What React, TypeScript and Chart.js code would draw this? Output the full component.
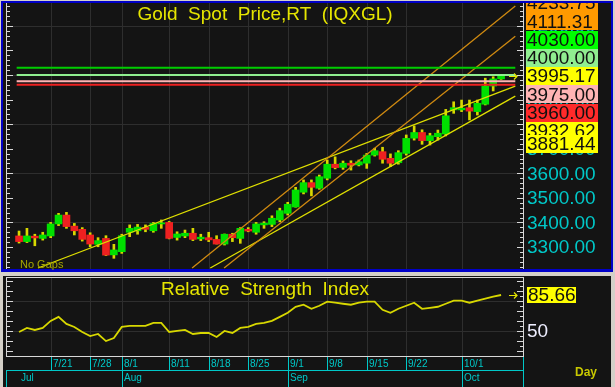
import React, { useEffect, useRef } from 'react';
import { Chart, registerables } from 'chart.js';

Chart.register(...registerables);

// ---------- data ----------
const dates = [
  '7/15', '7/16', '7/17', '7/18', '7/21', '7/22', '7/23', '7/24', '7/25', '7/28', '7/29', '7/30', '7/31',
  '8/1', '8/4', '8/5', '8/6', '8/7', '8/8', '8/11', '8/12', '8/13', '8/14', '8/15', '8/18', '8/19', '8/20',
  '8/21', '8/22', '8/25', '8/26', '8/27', '8/28', '8/29',
  '9/1', '9/2', '9/3', '9/4', '9/5', '9/8', '9/9', '9/10', '9/11', '9/12', '9/15', '9/16', '9/17', '9/18',
  '9/19', '9/22', '9/23', '9/24', '9/25', '9/26', '9/29', '9/30',
  '10/1', '10/2', '10/3', '10/6', '10/7', '10/8',
];
const opens = [
  3345, 3322, 3344, 3335, 3345, 3394, 3430, 3385, 3372, 3349, 3311, 3335, 3268,
  3281, 3360, 3366, 3380, 3366, 3394, 3400, 3339, 3345, 3356, 3333, 3338, 3331, 3312,
  3352, 3335, 3372, 3360, 3390, 3392, 3410,
  3437, 3463, 3523, 3562, 3539, 3580, 3637, 3624, 3641, 3634, 3641, 3674, 3688, 3661,
  3643, 3681, 3743, 3766, 3733, 3749, 3760, 3858,
  3858, 3867, 3851, 3881, 3955, 3984,
];
const highs = [
  3365, 3376, 3352, 3360, 3400, 3437, 3441, 3396, 3379, 3358, 3338, 3346, 3311,
  3352, 3390, 3392, 3390, 3400, 3410, 3404, 3362, 3369, 3376, 3352, 3360, 3346, 3353,
  3356, 3379, 3379, 3400, 3403, 3427, 3458,
  3482, 3543, 3573, 3573, 3593, 3654, 3667, 3650, 3651, 3654, 3681, 3702, 3706, 3679,
  3692, 3756, 3793, 3777, 3763, 3776, 3860, 3891,
  3898, 3898, 3898, 3987, 3993, 3999,
];
const lows = [
  3316, 3318, 3305, 3328, 3338, 3387, 3376, 3349, 3324, 3301, 3301, 3265, 3254,
  3274, 3342, 3352, 3362, 3360, 3376, 3333, 3328, 3338, 3326, 3326, 3322, 3312, 3308,
  3322, 3315, 3362, 3352, 3376, 3383, 3403,
  3430, 3462, 3516, 3508, 3535, 3573, 3618, 3616, 3613, 3630, 3620, 3670, 3641, 3627,
  3637, 3674, 3735, 3718, 3715, 3735, 3752, 3844,
  3851, 3817, 3837, 3878, 3935, 3982,
];
const closes = [
  3322, 3345, 3337, 3349, 3394, 3430, 3383, 3366, 3331, 3312, 3326, 3267, 3288,
  3346, 3376, 3381, 3372, 3396, 3398, 3335, 3353, 3356, 3331, 3340, 3329, 3312, 3352,
  3338, 3376, 3365, 3394, 3397, 3417, 3448,
  3474, 3532, 3562, 3543, 3586, 3637, 3623, 3641, 3633, 3647, 3674, 3692, 3657, 3641,
  3684, 3742, 3766, 3733, 3753, 3763, 3834, 3867,
  3865, 3853, 3885, 3955, 3984, 3995.17,
];
const rsiValues = [
  49, 53, 51, 53, 60, 64, 57, 54, 49, 45, 47, 40, 43,
  54, 55, 55, 55, 58, 58, 49, 50, 51, 47, 48, 48, 44, 50,
  48, 53, 54, 57, 58, 60, 64,
  68, 74, 76, 72, 75, 79, 78, 77, 76, 78, 79, 79, 71, 68,
  72, 75, 78, 72, 73, 74, 77, 80,
  80, 78, 80, 82, 84, 85.66,
];

const dayTickLabels = ['7/21', '7/28', '8/1', '8/11', '8/18', '8/25', '9/1', '9/8', '9/15', '9/22', '10/1'];
const monthLabels = ['Jul', 'Aug', 'Sep', 'Oct'];
const monthFirstDates = ['7/15', '8/1', '9/1', '10/1'];

const levelValues = [4030, 4000, 3975, 3960];
const levelColors = ['#00cc00', '#90ee90', '#ffb4b4', '#ee2020'];

const trendStartX = [21.9, 25.95, 2.4, 24.2];
const trendStartY = [3214.5, 3214.5, 3214.5, 3214.5];
const trendEndX = [62.8, 62.8, 62.8, 62.8];
const trendEndY = [4280.7, 4157.4, 3954.7, 3914.1];
const trendColors = ['#d08a10', '#d08a10', '#e0e000', '#e0e000'];

const priceLabelValues = ['4233.75', '4111.31', '4030.00', '4000.00', '3995.17', '3975.00', '3960.00', '3932.62', '3881.44'];
const priceLabelColors = ['#ff9a00', '#ff9a00', '#00ff00', '#90ee90', '#ffff00', '#ffb4b4', '#ff2a2a', '#ffff00', '#ffff00'];
const priceAxisTicks = [3300, 3400, 3500, 3600, 3700, 3800, 3900, 4000, 4100, 4200];
const rsiGridValues = [50, 80];
const rsiAxisLabel = '50';
const lastRsiLabel = '85.66';

const FONT = '"Liberation Sans", Arial, Helvetica, sans-serif';
const X_MIN = -1.65;
const X_MAX = 63.9;
const BG = '#141414';
const GRID = '#2e2e2e';
const CYAN = '#00c8c8';

function dayTickIdx() {
  return dayTickLabels.map((d) => dates.indexOf(d));
}

function drawArrow(ctx: CanvasRenderingContext2D, x: number, y: number, color: string) {
  ctx.save();
  ctx.strokeStyle = color;
  ctx.lineWidth = 1.2;
  ctx.beginPath();
  ctx.moveTo(x, y);
  ctx.lineTo(x + 8, y);
  ctx.moveTo(x + 5, y - 3);
  ctx.lineTo(x + 8, y);
  ctx.lineTo(x + 5, y + 3);
  ctx.stroke();
  ctx.restore();
}

function sideTicks(ctx: CanvasRenderingContext2D, chart: any, step: number, major: number) {
  const { left, right, top, bottom } = chart.chartArea;
  const ys = chart.scales.y;
  ctx.save();
  ctx.strokeStyle = '#d8d8d8';
  ctx.lineWidth = 1;
  const start = Math.ceil(ys.min / step) * step;
  for (let v = start; v <= ys.max; v += step) {
    const y = Math.round(ys.getPixelForValue(v)) + 0.5;
    if (y < top || y > bottom) continue;
    const len = Math.abs(v % major) < 1e-6 ? 7 : 4;
    ctx.beginPath();
    ctx.moveTo(left, y);
    ctx.lineTo(left + len, y);
    ctx.moveTo(right, y);
    ctx.lineTo(right - len, y);
    ctx.stroke();
  }
  ctx.beginPath();
  ctx.moveTo(left + 0.5, top);
  ctx.lineTo(left + 0.5, bottom);
  ctx.moveTo(right - 0.5, top);
  ctx.lineTo(right - 0.5, bottom);
  ctx.stroke();
  ctx.restore();
}

const topPanelPlugin = {
  id: 'topPanel',
  beforeDraw(chart: any) {
    const { ctx, width, height } = chart;
    const { left, right, top, bottom } = chart.chartArea;
    const xs = chart.scales.x;
    const ys = chart.scales.y;
    ctx.save();
    ctx.fillStyle = '#d4d0c8';
    ctx.fillRect(0, 0, width, height);
    ctx.fillStyle = '#0000c8';
    ctx.fillRect(1, 1, 612, 271);
    ctx.fillStyle = BG;
    ctx.fillRect(3, 3, 608, 266);
    ctx.strokeStyle = GRID;
    ctx.lineWidth = 1;
    dayTickIdx().forEach((i) => {
      const x = Math.round(xs.getPixelForValue(i)) + 0.5;
      ctx.beginPath();
      ctx.moveTo(x, top);
      ctx.lineTo(x, bottom);
      ctx.stroke();
    });
    for (let v = 3400; v <= 4200; v += 200) {
      const y = Math.round(ys.getPixelForValue(v)) + 0.5;
      ctx.beginPath();
      ctx.moveTo(left, y);
      ctx.lineTo(right, y);
      ctx.stroke();
    }
    ctx.restore();
  },
  afterDraw(chart: any) {
    const { ctx } = chart;
    const { left, right } = chart.chartArea;
    const ys = chart.scales.y;
    sideTicks(ctx, chart, 20, 100);
    ctx.save();
    ctx.font = `19px ${FONT}`;
    ctx.fillStyle = '#e6e600';
    ctx.textAlign = 'center';
    ctx.textBaseline = 'middle';
    ctx.fillText('Gold  Spot  Price,RT  (IQXGL)', (left + right) / 2, 15);
    ctx.font = `11px ${FONT}`;
    ctx.fillStyle = '#a8a800';
    ctx.textAlign = 'left';
    ctx.fillText('No Gaps', 20, 265);
    const yLast = ys.getPixelForValue(closes[closes.length - 1]);
    drawArrow(ctx, 509, Math.round(yLast) + 0.5, '#e6e600');
    ctx.beginPath();
    ctx.rect(0, 3, 611, 266);
    ctx.clip();
    ctx.font = `19px ${FONT}`;
    ctx.textBaseline = 'middle';
    ctx.fillStyle = CYAN;
    priceAxisTicks.forEach((v) => {
      ctx.fillText(v.toFixed(2), 527, ys.getPixelForValue(v) + 1);
    });
    const anchor = 4;
    const yA = ys.getPixelForValue(parseFloat(priceLabelValues[anchor]));
    const centers = priceLabelValues.map((_, i) => yA + (i - anchor) * 18.3);
    centers[centers.length - 1] = centers[centers.length - 2] + 12.5;
    priceLabelValues.forEach((t, i) => {
      const c = centers[i];
      ctx.fillStyle = priceLabelColors[i];
      ctx.fillRect(526, Math.round(c - 9), 72, 18);
      ctx.fillStyle = '#101010';
      ctx.fillText(t, 527, c + 1);
    });
    ctx.restore();
  },
};

const bottomPanelPlugin = {
  id: 'bottomPanel',
  beforeDraw(chart: any) {
    const { ctx, width, height } = chart;
    const { left, right, top, bottom } = chart.chartArea;
    const xs = chart.scales.x;
    const ys = chart.scales.y;
    ctx.save();
    ctx.fillStyle = '#d4d0c8';
    ctx.fillRect(0, 0, width, height);
    ctx.fillStyle = BG;
    ctx.fillRect(3, 2, 608, height - 2);
    ctx.strokeStyle = GRID;
    ctx.lineWidth = 1;
    dayTickIdx().forEach((i) => {
      const x = Math.round(xs.getPixelForValue(i)) + 0.5;
      ctx.beginPath();
      ctx.moveTo(x, top);
      ctx.lineTo(x, bottom);
      ctx.stroke();
    });
    rsiGridValues.forEach((v) => {
      const y = Math.round(ys.getPixelForValue(v)) + 0.5;
      ctx.beginPath();
      ctx.moveTo(left, y);
      ctx.lineTo(right, y);
      ctx.stroke();
    });
    ctx.restore();
  },
  afterDraw(chart: any) {
    const { ctx, height } = chart;
    const { left, right, top, bottom } = chart.chartArea;
    const xs = chart.scales.x;
    const ys = chart.scales.y;
    sideTicks(ctx, chart, 5, 10);
    ctx.save();
    ctx.strokeStyle = '#d8d8d8';
    ctx.lineWidth = 1;
    ctx.beginPath();
    ctx.moveTo(left, top + 0.5);
    ctx.lineTo(right, top + 0.5);
    ctx.moveTo(left, bottom - 0.5);
    ctx.lineTo(right, bottom - 0.5);
    ctx.stroke();

    ctx.font = `19px ${FONT}`;
    ctx.fillStyle = '#e6e600';
    ctx.textAlign = 'center';
    ctx.textBaseline = 'middle';
    ctx.fillText('Relative  Strength  Index', (left + right) / 2, 16);

    ctx.textAlign = 'left';
    const yL = ys.getPixelForValue(rsiValues[rsiValues.length - 1]);
    ctx.fillStyle = '#ffff00';
    ctx.fillRect(527, Math.round(yL - 7.5), 49, 16);
    ctx.fillStyle = '#101010';
    ctx.fillText(lastRsiLabel, 528, yL + 1);
    drawArrow(ctx, 509, Math.round(yL) + 0.5, '#e6e600');
    ctx.fillStyle = '#eeeeff';
    ctx.fillText(rsiAxisLabel, 527, ys.getPixelForValue(50) + 1);

    const rowMid = bottom + 13;
    ctx.strokeStyle = CYAN;
    ctx.fillStyle = CYAN;
    ctx.lineWidth = 1;
    ctx.beginPath();
    ctx.moveTo(left, rowMid + 0.5);
    ctx.lineTo(right, rowMid + 0.5);
    ctx.moveTo(right - 0.5, bottom);
    ctx.lineTo(right - 0.5, height);
    ctx.moveTo(left + 0.5, rowMid);
    ctx.lineTo(left + 0.5, height);
    ctx.stroke();
    ctx.font = `10px ${FONT}`;
    dayTickIdx().forEach((i, k) => {
      const x = Math.round(xs.getPixelForValue(i)) + 0.5;
      ctx.beginPath();
      ctx.moveTo(x, bottom);
      ctx.lineTo(x, rowMid);
      ctx.stroke();
      ctx.fillText(dayTickLabels[k], x + 1.5, bottom + 7.5);
    });
    monthFirstDates.forEach((d, k) => {
      const i = dates.indexOf(d);
      const x = Math.round(xs.getPixelForValue(i)) + 0.5;
      if (k > 0) {
        ctx.beginPath();
        ctx.moveTo(x, rowMid);
        ctx.lineTo(x, height);
        ctx.stroke();
      }
      ctx.fillText(monthLabels[k], x + 1.5, rowMid + 8);
    });
    ctx.font = `bold 12px ${FONT}`;
    ctx.fillStyle = '#c8c800';
    ctx.fillText('Day', 575, rowMid + 3);
    ctx.restore();
  },
};

export default function App() {
  const topRef = useRef<HTMLCanvasElement | null>(null);
  const botRef = useRef<HTMLCanvasElement | null>(null);

  useEffect(() => {
    document.body.style.margin = '0';
    const bodies = opens.map((o, i) => ({ x: i, y: [o, closes[i]] }));
    const bodyColors = opens.map((o, i) => (closes[i] >= o ? '#00e000' : '#ee2020'));
    const wicks = lows.map((l, i) => ({ x: i, y: [l, highs[i]] }));

    const lineSets: any[] = [
      ...levelValues.map((v, i) => ({
        type: 'line',
        data: [{ x: -0.3, y: v }, { x: 62.8, y: v }],
        borderColor: levelColors[i],
        borderWidth: 2,
        pointRadius: 0,
      })),
      ...trendStartX.map((x0, i) => ({
        type: 'line',
        data: [{ x: x0, y: trendStartY[i] }, { x: trendEndX[i], y: trendEndY[i] }],
        borderColor: trendColors[i],
        borderWidth: 1.3,
        pointRadius: 0,
      })),
    ];

    const top = new Chart(topRef.current as HTMLCanvasElement, {
      type: 'bar',
      data: {
        datasets: [
          ...lineSets,
          { type: 'bar', data: bodies as any, backgroundColor: bodyColors, barThickness: 7, grouped: false, minBarLength: 1 },
          { type: 'bar', data: wicks as any, backgroundColor: '#d8d800', barThickness: 2, grouped: false },
        ],
      },
      options: {
        animation: false,
        responsive: false,
        maintainAspectRatio: false,
        events: [],
        layout: { padding: { left: 6, right: 615 - 524, top: 3, bottom: 273 - 269 } },
        plugins: { legend: { display: false }, tooltip: { enabled: false } },
        scales: {
          x: { type: 'linear', min: X_MIN, max: X_MAX, display: false, offset: false },
          y: { type: 'linear', min: 3210.5, max: 4293, display: false },
        },
      } as any,
      plugins: [topPanelPlugin],
    });

    const bot = new Chart(botRef.current as HTMLCanvasElement, {
      type: 'line',
      data: {
        datasets: [
          {
            data: rsiValues.map((v, i) => ({ x: i, y: v })),
            borderColor: '#d8d800',
            borderWidth: 1.8,
            pointRadius: 0,
            tension: 0,
          },
        ],
      },
      options: {
        animation: false,
        responsive: false,
        maintainAspectRatio: false,
        events: [],
        layout: { padding: { left: 6, right: 615 - 524, top: 3, bottom: 113 - 83 } },
        plugins: { legend: { display: false }, tooltip: { enabled: false } },
        scales: {
          x: { type: 'linear', min: X_MIN, max: X_MAX, display: false },
          y: { type: 'linear', min: 24.2, max: 103.5, display: false },
        },
      } as any,
      plugins: [bottomPanelPlugin],
    });

    return () => {
      top.destroy();
      bot.destroy();
    };
  }, []);

  return (
    <div style={{ position: 'relative', width: 615, height: 387, background: '#d4d0c8', overflow: 'hidden' }}>
      <canvas ref={topRef} width={615} height={273} style={{ position: 'absolute', left: 0, top: 0, width: 615, height: 273 }} />
      <canvas ref={botRef} width={615} height={113} style={{ position: 'absolute', left: 0, top: 274, width: 615, height: 113 }} />
    </div>
  );
}
